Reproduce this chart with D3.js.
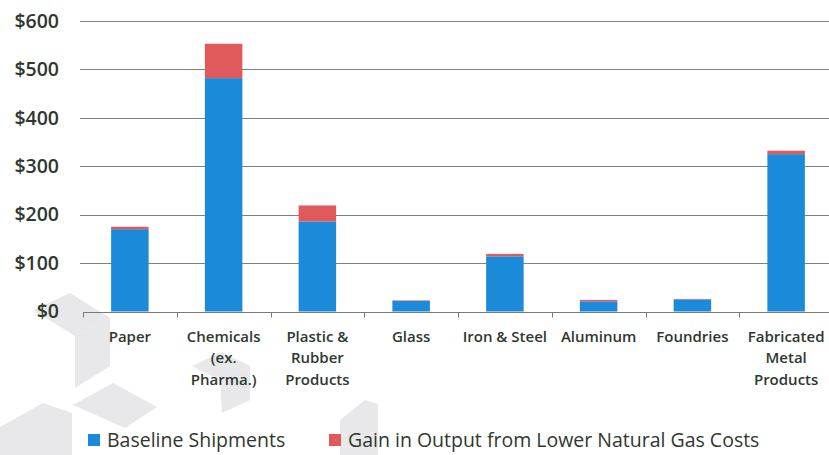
<!DOCTYPE html>
<html>
<head>
<meta charset="utf-8">
<script src="https://cdn.jsdelivr.net/npm/d3@7/dist/d3.min.js"></script>
<style>
  html, body { margin: 0; padding: 0; background: #fff; }
  svg { display: block; }
  text { font-family: "Open Sans", Lato, sans-serif; fill: #2e382f; }
</style>
</head>
<body>
<svg id="chart" width="829" height="455"></svg>
<script>
// Manufacturing shipments by sector (millions of dollars)
const categories = [
  ["Paper"],
  ["Chemicals", "(ex.", "Pharma.)"],
  ["Plastic &", "Rubber", "Products"],
  ["Glass"],
  ["Iron & Steel"],
  ["Aluminum"],
  ["Foundries"],
  ["Fabricated", "Metal", "Products"]
];
const baseline = [170, 482, 186, 22, 114, 21, 25, 325];
const gain     = [5, 71, 33, 1, 5, 3, 1, 7];
const yTicks   = [0, 100, 200, 300, 400, 500, 600];
const seriesNames = ["Baseline Shipments", "Gain in Output from Lower Natural Gas Costs"];
const seriesColors = ["#1b8ad9", "#e05a5c"];

const svg = d3.select("#chart");
const W = 829, H = 455;
const margin = { left: 83, right: -4, top: 21, bottom: 143 };

// faint isometric cube decoration in the lower left corner
const deco = svg.append("g").attr("fill", "#e8e8eb");
const shapes = [
  [[33, 310], [70, 293], [110, 318], [75, 336]],
  [[75, 336], [110, 318], [110, 366], [75, 388]],
  [[73, 405], [113, 383], [157, 407], [125, 428]],
  [[0, 427], [43, 403], [72, 413], [72, 455], [0, 455]],
  [[192, 366], [222, 352], [250, 366], [220, 380]],
  [[220, 380], [250, 366], [250, 400], [222, 413]],
  [[340, 420], [365, 400], [378, 404], [378, 455], [340, 455]]
];
deco.selectAll("polygon").data(shapes).join("polygon")
  .attr("points", d => d.map(p => p.join(",")).join(" "));

const x = d3.scaleBand()
  .domain(d3.range(categories.length))
  .range([margin.left, W - margin.right])
  .paddingInner(0.6)
  .paddingOuter(0.3);

const y = d3.scaleLinear()
  .domain([0, 600])
  .range([H - margin.bottom - 0.5, margin.top]);

// horizontal gridlines
svg.append("g")
  .selectAll("line").data(yTicks.filter(t => t > 0)).join("line")
  .attr("x1", 80).attr("x2", W)
  .attr("y1", d => Math.round(y(d)) + 0.5).attr("y2", d => Math.round(y(d)) + 0.5)
  .attr("stroke", "#808080").attr("stroke-width", 1.2);

// y axis labels
svg.append("g")
  .selectAll("text").data(yTicks).join("text")
  .attr("x", 59).attr("y", d => y(d))
  .attr("dy", "0.35em")
  .attr("text-anchor", "end")
  .attr("font-size", 19.5)
  .attr("font-weight", 600)
  .text(d => "$" + d);

// stacked bars
const stack = d3.stack().keys([0, 1]).value((d, k) => d[k]);
const rows = baseline.map((b, i) => [b, gain[i]]);
const layers = stack(rows);

svg.append("g")
  .selectAll("g").data(layers).join("g")
  .attr("fill", (d, i) => seriesColors[i])
  .selectAll("rect").data(d => d).join("rect")
  .attr("x", (d, i) => x(i))
  .attr("width", x.bandwidth())
  .attr("y", d => y(d[1]))
  .attr("height", d => y(d[0]) - y(d[1]));

// category axis
const axisY = Math.round(y(0)) + 0.5;
const step = x.step();
const xAxis = svg.append("g");
xAxis.append("line")
  .attr("x1", margin.left).attr("x2", W)
  .attr("y1", axisY).attr("y2", axisY)
  .attr("stroke", "#7a7a7a").attr("stroke-width", 1.2);
xAxis.selectAll("line.tick").data(d3.range(categories.length + 1)).join("line")
  .attr("class", "tick")
  .attr("x1", i => Math.round(margin.left + i * step) + 0.5)
  .attr("x2", i => Math.round(margin.left + i * step) + 0.5)
  .attr("y1", axisY).attr("y2", axisY + 5)
  .attr("stroke", "#7a7a7a");

const labels = xAxis.selectAll("text.cat").data(categories).join("text")
  .attr("class", "cat")
  .attr("text-anchor", "middle")
  .attr("font-size", 15)
  .attr("font-weight", 600)
  .attr("y", axisY + 29);
labels.selectAll("tspan").data((d, i) => d.map(s => ({ s, i }))).join("tspan")
  .attr("x", d => x(d.i) + x.bandwidth() / 2)
  .attr("dy", (d, j) => j === 0 ? 0 : 21.5)
  .text(d => d.s);

// legend
const legendItems = [{ x: 88, tx: 107 }, { x: 329, tx: 348 }];
const legend = svg.append("g");
legend.selectAll("rect").data(seriesNames).join("rect")
  .attr("x", (d, i) => legendItems[i].x).attr("y", 434)
  .attr("width", 12).attr("height", 12)
  .attr("fill", (d, i) => seriesColors[i]);
legend.selectAll("text").data(seriesNames).join("text")
  .attr("x", (d, i) => legendItems[i].tx).attr("y", 447)
  .attr("font-size", 19.5)
  .attr("font-weight", 500)
  .text(d => d);
</script>
</body>
</html>
